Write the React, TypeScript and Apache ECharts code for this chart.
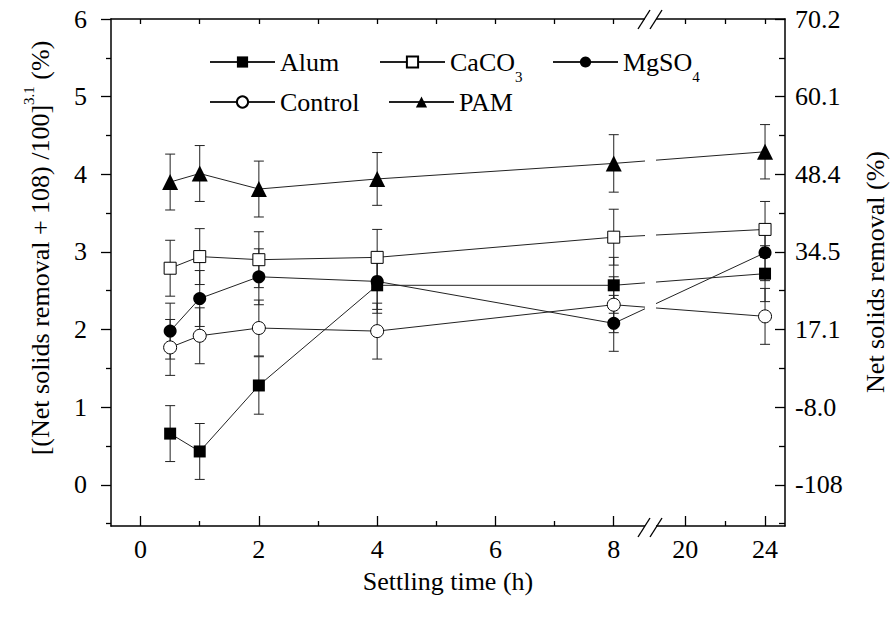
import React, { useEffect, useRef } from 'react';
import * as echarts from 'echarts';

// ---- data ----
const times = [0.5, 1, 2, 4, 8, 24];
const alum = [0.66, 0.43, 1.28, 2.57, 2.57, 2.72];
const caco3 = [2.79, 2.94, 2.9, 2.93, 3.19, 3.29];
const mgso4 = [1.98, 2.4, 2.68, 2.62, 2.08, 2.99];
const control = [1.77, 1.92, 2.02, 1.98, 2.32, 2.17];
const pam = [3.9, 4.01, 3.81, 3.94, 4.14, 4.29];

const alumErr = [0.36, 0.36, 0.37, 0.36, 0.36, 0.36];
const caco3Err = [0.36, 0.36, 0.36, 0.36, 0.36, 0.36];
const mgso4Err = [0.36, 0.36, 0.36, 0.36, 0.36, 0.36];
const controlErr = [0.36, 0.36, 0.36, 0.36, 0.36, 0.36];
const pamErr = [0.36, 0.36, 0.36, 0.34, 0.37, 0.35];

const xMajorTicks = [0, 2, 4, 6, 8, 20, 24];
const xMinorTicks = [1, 3, 5, 7, 22];
const xTopTicks = [0, 1, 2, 3, 4, 5, 6, 7, 8, 20, 22, 24];
const yLeftTicks = [0, 1, 2, 3, 4, 5, 6];
const yMinorTicks = [-0.5, 0.5, 1.5, 2.5, 3.5, 4.5, 5.5];
const rightLabels = ['-108', '-8.0', '17.1', '34.5', '48.4', '60.1', '70.2'];

// ---- broken x axis mapping: [ -0.5 , 8.6 ] // [ 18.2 , 25 ]
const SEG1_END = 8.6;
const SEG2_START = 18.2;
const SEG2_RATIO = 20 / 59.25;
const fx = (x: number) => (x <= SEG1_END ? x : SEG1_END + (x - SEG2_START) * SEG2_RATIO);
const X_MIN = -0.5;
const X_MAX = fx(25);
const Y_MIN = -0.53;
const Y_MAX = 6;

const FONT = 'Liberation Serif, Times New Roman, serif';
const FS = 26;

const seriesDefs = [
  { name: 'Alum', values: alum, err: alumErr, symbol: 'rect', size: 12, hollow: false },
  { name: 'CaCO3', values: caco3, err: caco3Err, symbol: 'rect', size: 12, hollow: true },
  { name: 'MgSO4', values: mgso4, err: mgso4Err, symbol: 'circle', size: 13, hollow: false },
  { name: 'Control', values: control, err: controlErr, symbol: 'circle', size: 13, hollow: true },
  { name: 'PAM', values: pam, err: pamErr, symbol: 'triangle', size: 16, hollow: false },
];

const legendPos: Record<string, [number, number]> = {
  Alum: [209, 62],
  CaCO3: [379, 62],
  MgSO4: [552, 62],
  Control: [209, 102],
  PAM: [388, 102],
};

export default function App() {
  const ref = useRef<HTMLDivElement>(null);
  useEffect(() => {
    if (!ref.current) return;
    const chart = echarts.init(ref.current, undefined, { renderer: 'svg' });
    const axisLine = { show: true, onZero: false, lineStyle: { color: '#000', width: 1.5 } };
    const tickStyle = { color: '#000', width: 1.3 };
    const labelBase = { fontSize: FS, fontFamily: FONT, color: '#000' };

    const lineSeries = seriesDefs.map((s) => ({
      name: s.name,
      type: 'line',
      xAxisIndex: 0,
      yAxisIndex: 0,
      z: 3,
      data: times.map((t, i) => [fx(t), s.values[i]]),
      symbol: s.symbol,
      symbolSize: s.size,
      showAllSymbol: true,
      lineStyle: { color: '#222', width: 1 },
      itemStyle: s.hollow
        ? { color: '#fff', borderColor: '#000', borderWidth: 1 }
        : { color: '#000', borderColor: '#000', borderWidth: 0 },
      emphasis: { disabled: true },
    }));

    const errSeries = seriesDefs.map((s) => ({
      name: s.name + ' err',
      type: 'custom',
      xAxisIndex: 0,
      yAxisIndex: 0,
      z: 2,
      silent: true,
      data: times.map((t, i) => [fx(t), s.values[i] - s.err[i], s.values[i] + s.err[i]]),
      encode: { x: 0, y: [1, 2] },
      renderItem: (params: any, api: any) => {
        const x = api.value(0);
        const lo = api.coord([x, api.value(1)]);
        const hi = api.coord([x, api.value(2)]);
        const hw = 5;
        const style = { stroke: '#222', lineWidth: 1, fill: 'none' };
        return {
          type: 'group',
          children: [
            { type: 'line', shape: { x1: lo[0], y1: lo[1], x2: hi[0], y2: hi[1] }, style },
            { type: 'line', shape: { x1: lo[0] - hw, y1: lo[1], x2: lo[0] + hw, y2: lo[1] }, style },
            { type: 'line', shape: { x1: hi[0] - hw, y1: hi[1], x2: hi[0] + hw, y2: hi[1] }, style },
          ],
        };
      },
    }));

    const legends = seriesDefs.map((s) => ({
      show: true,
      data: [s.name],
      left: legendPos[s.name][0],
      top: legendPos[s.name][1] - 22,
      orient: 'horizontal',
      padding: 0,
      itemWidth: 65,
      itemHeight: 14,
      selectedMode: false,
      z: 100,
      formatter: (name: string) =>
        name === 'CaCO3' ? 'CaCO{sub|3}' : name === 'MgSO4' ? 'MgSO{sub|4}' : name,
      textStyle: {
        fontSize: FS,
        fontFamily: FONT,
        color: '#000',
        lineHeight: 44,
        rich: {
          sub: { fontSize: 15, fontFamily: FONT, color: '#000', lineHeight: 15, padding: [29, 0, 0, 0] },
        },
      },
    }));

    const slash = (x1: number, y1: number, x2: number, y2: number) => ({
      type: 'line',
      z: 51,
      shape: { x1, y1, x2, y2 },
      style: { stroke: '#000', lineWidth: 1.4 },
    });

    const option: any = {
      animation: false,
      backgroundColor: '#fff',
      textStyle: { fontFamily: FONT },
      grid: { left: 111, right: 105, top: 19, bottom: 92, containLabel: false, outerBoundsMode: 'none' },
      legend: legends,
      xAxis: [
        {
          type: 'value',
          position: 'bottom',
          min: X_MIN,
          max: X_MAX,
          axisLine,
          axisTick: { show: true, inside: true, length: 10, customValues: xMajorTicks.map(fx), lineStyle: tickStyle },
          axisLabel: {
            ...labelBase,
            margin: 10,
            customValues: xMajorTicks.map(fx),
            formatter: (v: number) => {
              const t = xMajorTicks.find((m) => Math.abs(fx(m) - v) < 1e-6);
              return t === undefined ? '' : String(t);
            },
          },
          splitLine: { show: false },
        },
        {
          type: 'value',
          position: 'bottom',
          min: X_MIN,
          max: X_MAX,
          axisLine: { show: false, onZero: false },
          axisTick: { show: true, inside: true, length: 5, customValues: xMinorTicks.map(fx), lineStyle: tickStyle },
          axisLabel: { show: false },
          splitLine: { show: false },
        },
        {
          type: 'value',
          position: 'top',
          min: X_MIN,
          max: X_MAX,
          axisLine,
          axisTick: { show: true, inside: true, length: 5, customValues: xTopTicks.map(fx), lineStyle: tickStyle },
          axisLabel: { show: false },
          splitLine: { show: false },
        },
      ],
      yAxis: [
        {
          type: 'value',
          position: 'left',
          min: Y_MIN,
          max: Y_MAX,
          axisLine,
          axisTick: { show: true, inside: false, length: 10, customValues: yLeftTicks, lineStyle: tickStyle },
          axisLabel: { ...labelBase, margin: 24, customValues: yLeftTicks, formatter: (v: number) => String(Math.round(v)) },
          splitLine: { show: false },
        },
        {
          type: 'value',
          position: 'left',
          min: Y_MIN,
          max: Y_MAX,
          axisLine: { show: false, onZero: false },
          axisTick: { show: true, inside: false, length: 5, customValues: yMinorTicks, lineStyle: tickStyle },
          axisLabel: { show: false },
          splitLine: { show: false },
        },
        {
          type: 'value',
          position: 'right',
          min: Y_MIN,
          max: Y_MAX,
          axisLine,
          axisTick: { show: true, inside: true, length: 10, customValues: yLeftTicks, lineStyle: tickStyle },
          axisLabel: {
            ...labelBase,
            margin: 10,
            customValues: yLeftTicks,
            formatter: (v: number) => rightLabels[Math.round(v)] ?? '',
          },
          splitLine: { show: false },
        },
        {
          type: 'value',
          position: 'right',
          min: Y_MIN,
          max: Y_MAX,
          axisLine: { show: false, onZero: false },
          axisTick: { show: true, inside: true, length: 6, customValues: yMinorTicks, lineStyle: tickStyle },
          axisLabel: { show: false },
          splitLine: { show: false },
        },
      ],
      series: [...errSeries, ...lineSeries],
      graphic: [
        { type: 'rect', z: 50, shape: { x: 645, y: 14, width: 11, height: 518 }, style: { fill: '#fff' } },
        slash(638, 537, 650, 518),
        slash(650, 537, 662, 518),
        slash(638, 29, 650, 10),
        slash(650, 29, 662, 10),
        {
          type: 'text',
          z: 60,
          x: 448,
          y: 581,
          style: { text: 'Settling time (h)', fontSize: FS, fontFamily: FONT, fill: '#000', align: 'center', verticalAlign: 'middle' },
        },
        {
          type: 'text',
          z: 60,
          x: 40,
          y: 248,
          rotation: Math.PI / 2,
          style: {
            text: '[(Net solids removal + 108) /100]{sup|3.1} (%)',
            fontSize: FS,
            fontFamily: FONT,
            fill: '#000',
            align: 'center',
            verticalAlign: 'middle',
            rich: { sup: { fontSize: 15, fontFamily: FONT, fill: '#000', padding: [0, 0, 22, 0] } },
          },
        },
        {
          type: 'text',
          z: 60,
          x: 875,
          y: 272,
          rotation: Math.PI / 2,
          style: { text: 'Net solids removal (%)', fontSize: FS, fontFamily: FONT, fill: '#000', align: 'center', verticalAlign: 'middle' },
        },
      ],
    };
    chart.setOption(option);
    return () => chart.dispose();
  }, []);
  return <div ref={ref} style={{ position: 'fixed', left: 0, top: 0, width: 890, height: 618, background: '#fff' }} />;
}
